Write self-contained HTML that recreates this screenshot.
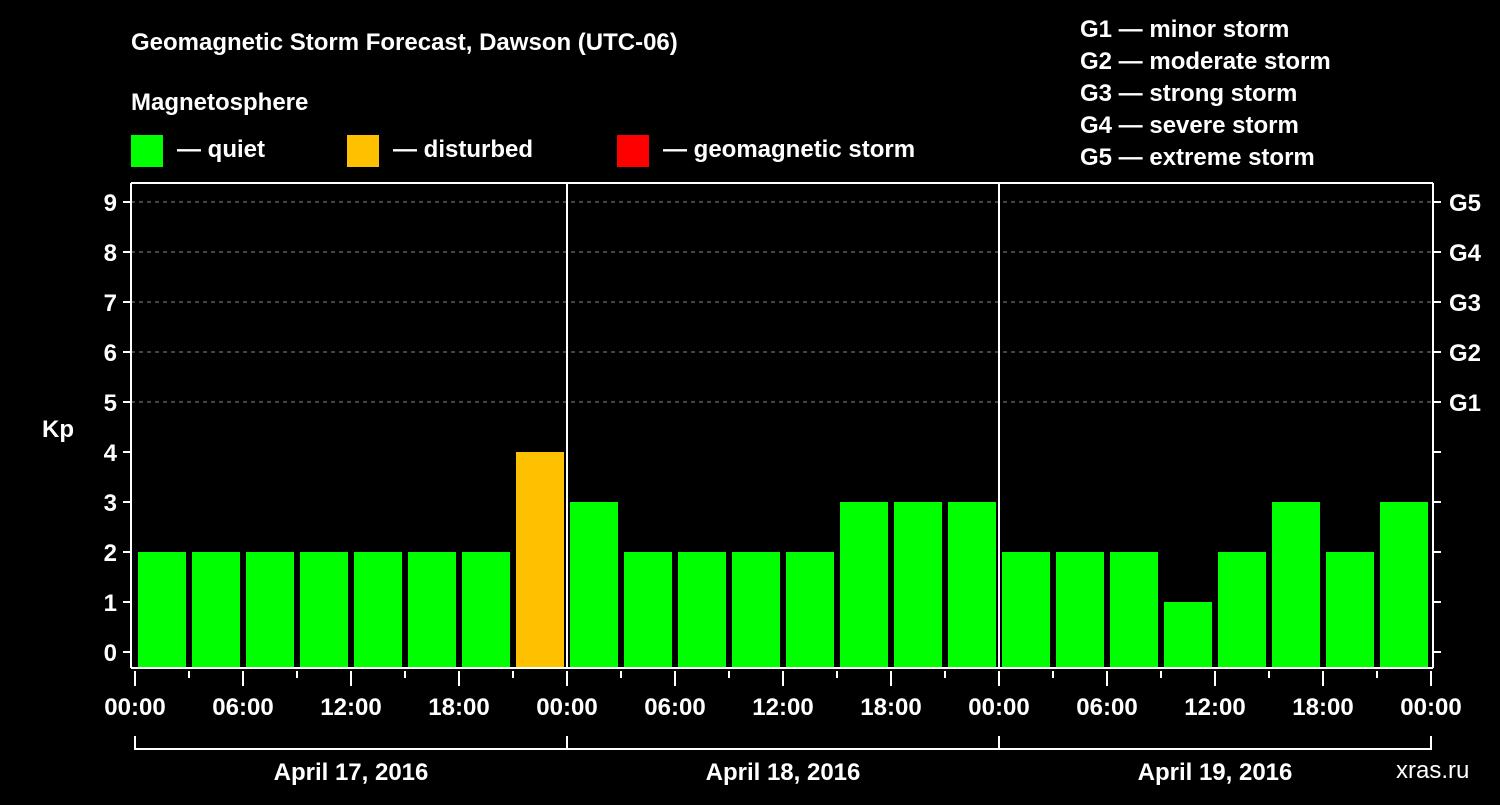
<!DOCTYPE html>
<html><head><meta charset="utf-8"><style>
body{margin:0;background:#000;width:1500px;height:800px;overflow:hidden}
svg text{font-family:"Liberation Sans",Arial,sans-serif;font-weight:bold;fill:#fff}
</style></head><body>
<svg id="chart" width="1500" height="800" xmlns="http://www.w3.org/2000/svg">
<rect width="1500" height="800" fill="#000"/>
<text x="131" y="50" font-size="24">Geomagnetic Storm Forecast, Dawson (UTC-06)</text>
<text x="131" y="110" font-size="24">Magnetosphere</text>
<g><rect x="131" y="135" width="32" height="32" fill="#00ff00"/><text x="177" y="157" font-size="24">— quiet</text></g>
<g><rect x="347" y="135" width="32" height="32" fill="#ffc000"/><text x="393" y="157" font-size="24">— disturbed</text></g>
<g><rect x="617" y="135" width="32" height="32" fill="#ff0000"/><text x="663" y="157" font-size="24">— geomagnetic storm</text></g>
<g font-size="24">
<text x="1080" y="37">G1 — minor storm</text>
<text x="1080" y="69">G2 — moderate storm</text>
<text x="1080" y="101">G3 — strong storm</text>
<text x="1080" y="133">G4 — severe storm</text>
<text x="1080" y="165">G5 — extreme storm</text>
</g>
<text x="42" y="437" font-size="24">Kp</text>
<text x="1396" y="778" font-size="24" fill="#fff" style="font-weight:normal">xras.ru</text>
<g id="grid"></g><g id="bars"></g><g id="axes"></g>
</svg>
<script>
const kpValues=[2,2,2,2,2,2,2,4, 3,2,2,2,2,3,3,3, 2,2,2,1,2,3,2,3];
const yTicks=[0,1,2,3,4,5,6,7,8,9];
const gLabels=["G1","G2","G3","G4","G5"];
const xTickLabels=["00:00","06:00","12:00","18:00"];
const dayLabels=["April 17, 2016","April 18, 2016","April 19, 2016"];
const NS="http://www.w3.org/2000/svg";
const L=131,R=1433,T=183,B=668,X0=135,SLOT=54,Y0=652,UNIT=50;
const xs=i=>X0+i*SLOT;
const ys=v=>Y0-v*UNIT;
function mk(tag,attrs,parent){const e=document.createElementNS(NS,tag);for(const k in attrs)e.setAttribute(k,attrs[k]);document.getElementById(parent).appendChild(e);return e;}
yTicks.forEach(v=>{
 if(v>=5){const g=mk('line',{x1:L,x2:R,y1:ys(v),y2:ys(v),stroke:'#888','stroke-dasharray':'4,4','stroke-width':1},'grid');
 
 }
 const t=mk('line',{x1:L-8,x2:L,y1:ys(v),y2:ys(v),stroke:'#fff','stroke-width':2},'axes');
 
 
 const tx=mk('text',{x:L-14,y:ys(v)+9,'text-anchor':'end','font-size':24},'axes');tx.textContent=v;
 
 
 const rt=mk('line',{x1:R,x2:R+8,y1:ys(v),y2:ys(v),stroke:'#fff','stroke-width':2},'axes');
 
 
});
gLabels.forEach((g,i)=>{const t=mk('text',{x:R+16,y:ys(5+i)+9,'font-size':24},'axes');t.textContent=g;
 
 });
kpValues.forEach((v,i)=>{
 const c=v>=5?'#ff0000':(v>=4?'#ffc000':'#00ff00');
 const r=mk('rect',{x:xs(i)+3,y:ys(v),width:48,height:B-ys(v),fill:c},'bars');
 
 
});
[[L,T,R,T],[L,T,L,B],[R,T,R,B],[L,B,R,B],[xs(8),T,xs(8),B],[xs(16),T,xs(16),B]].forEach((p,i)=>{
 const l=mk('line',{x1:p[0],y1:p[1],x2:p[2],y2:p[3],stroke:'#fff','stroke-width':2},'axes');
 
 
});
for(let i=0;i<=24;i++){
 const major=i%2==0;
 const l=mk('line',{x1:xs(i),x2:xs(i),y1:B+3,y2:major?B+18:B+10,stroke:'#fff','stroke-width':2},'axes');
 
 
 if(major&&i%2==0&&(i%8)%2==0&&((i%8)/2)%1==0&&i%2==0&&(i/2)%1==0&&(i%8==0||i%8==2||i%8==4||i%8==6)){
  if((i/2)%1==0&&((i%8)/2)<4&&(i%8)%2==0&&((i%8)==0||(i%8)==2||(i%8)==4||(i%8)==6)){
   const idx=(i%8)/2; const lbl=[0,1,2,3].includes(idx)?xTickLabels[idx]:'';
   if(i%8===0||i%8===2||i%8===4||i%8===6){
    if(i%8!==2&&i%8!==6||true){
     // labels every 6h
     if((i%8)%2===0 && (i%2===0) && (i%8)!==2 && (i%8)!==6 || (i%8)===2 || (i%8)===6){}
    }
   }
  }
 }
}
for(let i=0;i<=12;i++){
 const t=mk('text',{x:xs(i*2),y:715,'text-anchor':'middle','font-size':24},'axes');
 t.textContent=xTickLabels[i%4];
 
 
}
const br=mk('path',{d:`M${xs(0)},736V749H${xs(24)}V736M${xs(8)},736V749M${xs(16)},736V749`,fill:'none',stroke:'#fff','stroke-width':2},'axes');


dayLabels.forEach((d,i)=>{const t=mk('text',{x:xs(i*8+4),y:780,'text-anchor':'middle','font-size':24},'axes');t.textContent=d;
 
 });
</script>
</body></html>
